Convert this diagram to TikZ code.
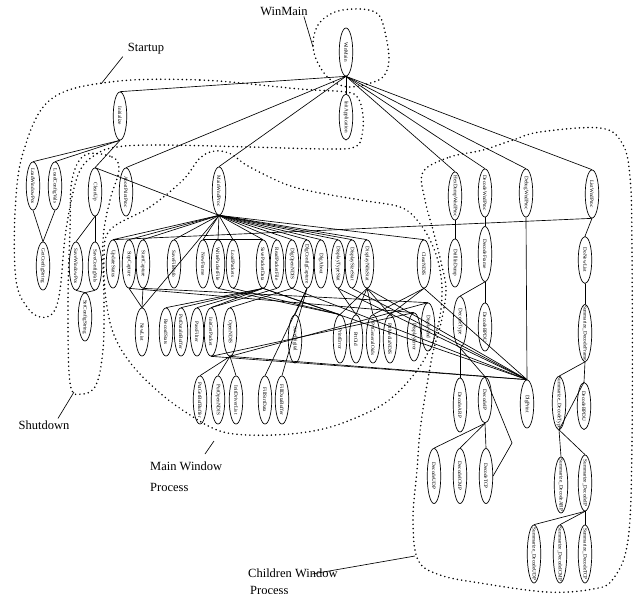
\documentclass[tikz,border=0pt]{standalone}
\usepackage{fontspec}
\setmainfont{Liberation Serif}
\usetikzlibrary{shapes.geometric}
% rotated function name inside an ellipse
\newcommand\fl[1]{\rotatebox{-90}{\makebox[0pt]{\fontsize{5.2}{5.5}\selectfont #1}}}
\begin{document}
\begin{tikzpicture}[x=1pt,y=-1pt,
  fn/.style={draw, ellipse, line width=0.7pt, minimum width=13.5pt, minimum height=48pt, inner sep=0pt},
  call/.style={line width=0.65pt},
  grp/.style={line width=1.7pt, dash pattern=on 0pt off 4.3pt, line cap=round},
  tag/.style={font=\fontsize{12.5}{13}\selectfont, inner sep=0pt},
  ptr/.style={line width=0.65pt}]
\useasboundingbox (0,0) rectangle (635,594);

% ---- top level ----
\node[fn] (WinMain) at (346,52) {\fl{WinMain}};
\node[fn,minimum height=46pt] (InitApplication) at (346,117) {\fl{InitApplication}};
\node[fn] (Initialize) at (120,116) {\fl{Initialize}};
\node[fn] (LoadWindowPos) at (33,186) {\fl{LoadWindowPos}};
\node[fn] (LoadConfigVals) at (55,186) {\fl{LoadConfigVals}};
\node[fn] (GetConfigString) at (43,266) {\fl{GetConfigString}};
\node[fn] (CleanUp) at (95,192) {\fl{CleanUp}};
\node[fn] (SaveWindowPos) at (76,266) {\fl{SaveWindowPos}};
\node[fn] (SaveConfigVals) at (95,266) {\fl{SaveConfigVals}};
\node[fn] (SetConfigString) at (85,317) {\fl{SetConfigString}};
\node[fn] (AbortPrintProc) at (126,192) {\fl{AbortPrintProc}};
\node[fn] (MainWndProc) at (219,191) {\fl{MainWndProc}};
\node[fn] (HexDumpWndProc) at (455,196) {\fl{HexDumpWndProc}};
\node[fn] (DecodeWndProc) at (485,193) {\fl{DecodeWndProc}};
\node[fn] (DebugWndProc) at (526,193) {\fl{DebugWndProc}};
\node[fn] (ListWndProc) at (592,194) {\fl{ListWndProc}};

% ---- main window row ----
\node[fn] (UpdateStatus) at (113,264) {\fl{UpdateStatus}};
\node[fn] (StopCapture) at (129,264) {\fl{StopCapture}};
\node[fn] (StartCapture) at (143,264) {\fl{StartCapture}};
\node[fn] (SaveFileInfo) at (174,264) {\fl{SaveFileInfo}};
\node[fn] (NewFrame) at (203,264) {\fl{NewFrame}};
\node[fn] (WritePacketFile) at (218,264) {\fl{WritePacketFile}};
\node[fn] (LoadPackets) at (233,264) {\fl{LoadPackets}};
\node[fn] (SavePacketData) at (263,264) {\fl{SavePacketData}};
\node[fn] (ReadPacketFile) at (277,264) {\fl{ReadPacketFile}};
\node[fn] (DlgOpenNDIS) at (292,264) {\fl{DlgOpenNDIS}};
\node[fn] (DlgConfigCapt) at (307,264) {\fl{DlgConfigCapture}};
\node[fn] (DlgAbout) at (321,264) {\fl{DlgAbout}};
\node[fn] (DisplayTypeStat) at (338,264) {\fl{DisplayTypeStat}};
\node[fn] (DisplaySizeStat) at (352,264) {\fl{DisplaySizeStat}};
\node[fn] (DisplayNdisStat) at (367,264) {\fl{DisplayNdisStat}};
\node[fn] (ClearNDIS) at (424,264) {\fl{ClearNDIS}};

\node[fn] (NewList) at (142,332) {\fl{NewList}};
\node[fn] (RecordStats) at (166,332) {\fl{RecordStats}};
\node[fn] (PutDataInBuffer) at (181,332) {\fl{PutDataInBuffer}};
\node[fn] (PassFilter) at (197,332) {\fl{PassFilter}};
\node[fn] (InitGetPacket) at (211,332) {\fl{InitGetPacket}};
\node[fn] (OpenNDIS) at (230,332) {\fl{OpenNDIS}};
\node[fn] (SaveDigital) at (295,339) {\fl{SaveDigital}};
\node[fn] (PrintError) at (340,339) {\fl{PrintError}};
\node[fn] (PrtOid) at (356,339) {\fl{PrtOid}};
\node[fn] (PrtGeneralOids) at (373,339) {\fl{PrtGeneralOids}};
\node[fn] (PrtMediaNDIS) at (390,339) {\fl{PrtMediaNDIS}};
\node[fn] (DisplayErr) at (414,337) {\fl{DisplayError}};
\node[fn] (DisplayInd) at (428,327) {\fl{DisplayInd}};

\node[fn] (PutGetBufBuffer) at (200,400) {\fl{PutGetBufBuffer}};
\node[fn] (PutOpenNDIS) at (218,400) {\fl{PutOpenNDIS}};
\node[fn] (InitDriverList) at (236,400) {\fl{InitDriverList}};
\node[fn] (FillStrtData) at (265,400) {\fl{FillStrtData}};
\node[fn] (FillDataBuffer) at (282,400) {\fl{FillDataBuffer}};

% ---- child windows ----
\node[fn] (DrillInDump) at (455,263) {\fl{DrillInDump}};
\node[fn,minimum height=55pt] (DecodeFrame) at (485,254) {\fl{DecodeFrame}};
\node[fn,minimum height=51pt] (DecodeType) at (460,322) {\fl{DecodeType}};
\node[fn] (DecodeBPDU) at (485,327) {\fl{DecodeBPDU}};
\node[fn,minimum height=54pt] (DecodeARP) at (460,405) {\fl{DecodeARP}};
\node[fn,minimum height=46pt] (DecodeIP) at (485,400) {\fl{DecodeIP}};
\node[fn,minimum height=55pt] (DecodeUDP) at (434,476) {\fl{DecodeUDP}};
\node[fn,minimum height=55pt] (DecodeICMP) at (460,476) {\fl{DecodeICMP}};
\node[fn,minimum height=55pt] (DecodeTCP) at (486,476) {\fl{DecodeTCP}};
\node[fn] (DlgPrint) at (527,404) {\fl{DlgPrint}};
\node[fn,minimum height=47pt] (DoNewList) at (585,260) {\fl{DoNewList}};
\node[fn,minimum height=57pt] (SumFrame) at (585,333) {\fl{Summarize\_DecodeFrame}};
\node[fn,minimum height=53pt] (SumType) at (559,403) {\fl{Summarize\_DecodeType}};
\node[fn,minimum height=47pt] (DecodeBPDUb) at (584,406) {\fl{DecodeBPDU}};
\node[fn,minimum height=56pt] (SumARP) at (561,485) {\fl{Summarize\_DecodeARP}};
\node[fn,minimum height=56pt] (SumIP) at (585,483) {\fl{Summarize\_DecodeIP}};
\node[fn,minimum height=58pt] (SumUDP) at (534,554) {\fl{Summarize\_DecodeUDP}};
\node[fn,minimum height=58pt] (SumICMP) at (560,554) {\fl{Summarize\_DecodeICMP}};
\node[fn,minimum height=58pt] (SumTCP) at (585,554) {\fl{Summarize\_DecodeTCP}};

% ---- calls ----
\foreach \a/\b in {
  WinMain/Initialize, WinMain/InitApplication, WinMain/AbortPrintProc, WinMain/MainWndProc,
  WinMain/HexDumpWndProc, WinMain/DecodeWndProc, WinMain/DebugWndProc, WinMain/ListWndProc,
  Initialize/LoadWindowPos, Initialize/LoadConfigVals, Initialize/CleanUp,
  LoadWindowPos/GetConfigString, LoadConfigVals/GetConfigString,
  MainWndProc/CleanUp, CleanUp/SaveWindowPos, CleanUp/SaveConfigVals,
  SaveWindowPos/SetConfigString, SaveConfigVals/SetConfigString,
  MainWndProc/UpdateStatus, MainWndProc/StopCapture, MainWndProc/StartCapture,
  MainWndProc/SaveFileInfo, MainWndProc/NewFrame, MainWndProc/WritePacketFile,
  MainWndProc/LoadPackets, MainWndProc/SavePacketData, MainWndProc/ReadPacketFile,
  MainWndProc/DlgOpenNDIS, MainWndProc/DlgConfigCapt, MainWndProc/DlgAbout,
  MainWndProc/DisplayTypeStat, MainWndProc/DisplaySizeStat, MainWndProc/DisplayNdisStat,
  MainWndProc/ClearNDIS, MainWndProc/NewList,
  ListWndProc/UpdateStatus,
  StopCapture/NewList, StartCapture/NewList,
  StopCapture/DisplayErr, StartCapture/DisplayInd,
  SavePacketData/RecordStats, SavePacketData/PutDataInBuffer, SavePacketData/PassFilter,
  SavePacketData/InitGetPacket, ReadPacketFile/InitGetPacket, DlgOpenNDIS/OpenNDIS,
  DlgConfigCapt/SaveDigital, DlgConfigCapt/FillStrtData, DlgConfigCapt/FillDataBuffer,
  OpenNDIS/PutGetBufBuffer, OpenNDIS/PutOpenNDIS, OpenNDIS/InitDriverList,
  InitGetPacket/DisplayErr, OpenNDIS/DisplayInd,
  WritePacketFile/PrintError, LoadPackets/PrintError, SavePacketData/PrintError,
  DisplayNdisStat/PrintError, DisplayNdisStat/PrtOid, DisplayNdisStat/PrtGeneralOids,
  DisplayNdisStat/PrtMediaNDIS, DisplayTypeStat/PrtOid,
  ClearNDIS/PrtMediaNDIS, ClearNDIS/PrtGeneralOids,
  DisplayNdisStat/DlgPrint, DisplaySizeStat/DlgPrint, DisplayTypeStat/DlgPrint,
  DlgOpenNDIS/DlgPrint, SavePacketData/DlgPrint, OpenNDIS/DlgPrint, InitGetPacket/DlgPrint,
  ClearNDIS/DlgPrint, DebugWndProc/DlgPrint,
  HexDumpWndProc/DrillInDump, DecodeWndProc/DecodeFrame,
  DecodeFrame/DecodeType, DecodeFrame/DecodeBPDU,
  DecodeType/DecodeARP, DecodeType/DecodeIP,
  DecodeIP/DecodeUDP, DecodeIP/DecodeICMP, DecodeIP/DecodeTCP,
  ListWndProc/DoNewList, DoNewList/SumFrame, SumFrame/SumType, SumFrame/DecodeBPDUb,
  SumType/SumARP, SumType/SumIP, SumIP/SumUDP, SumIP/SumICMP, SumIP/SumTCP}
  \draw[call] (\a.south) -- (\b.north);
\draw[call] (NewFrame.north) -- (SavePacketData.north);
\draw[call] (SumType.south) -- (DecodeBPDUb.north);
\coordinate (tcpBend) at (512,443);
\draw[call] (DecodeIP.north) -- (tcpBend) -- (DecodeTCP.east);

% ---- groups ----
\draw[grp] plot[smooth cycle, tension=0.6] coordinates {
  (313,47) (318,25) (335,12) (360,9) (378,14) (385,32) (389,60) (383,77) (367,84) (348,87) (332,81) (320,67)};
\draw[grp] plot[smooth cycle, tension=0.6] coordinates {
  (110,82) (200,80) (300,89) (346,92) (358,98) (363,115) (362,135) (355,147) (327,149)
  (250,147) (160,145) (117,147) (95,155) (78,175) (66,230) (60,290) (53,313) (40,317)
  (27,307) (16,280) (15,213) (23,153) (50,100)};
\draw[grp] plot[smooth cycle, tension=0.6] coordinates {
  (85,155) (112,157) (119,170) (110,200) (103,240) (104,300) (103,350) (96,385) (82,394)
  (70,383) (68,300) (70,230) (72,180)};
\draw[grp] plot[smooth cycle, tension=0.6] coordinates {
  (110,230) (150,207) (183,180) (200,158) (215,151) (231,154) (248,166) (285,184) (315,192)
  (360,200) (400,207) (417,220) (430,240) (439,265) (442,295) (437,330) (424,360)
  (405,385) (385,403) (360,416) (327,428) (290,434) (247,435) (217,430) (187,413)
  (160,393) (132,365) (114,335) (106,300) (104,260)};
\draw[grp] plot[smooth cycle, tension=0.6] coordinates {
  (423,172) (450,157) (483,150) (513,140) (540,132) (600,128) (622,143) (630,177)
  (632,250) (632,440) (628,540) (613,579) (593,589) (547,592) (480,583) (440,575)
  (418,560) (413,520) (417,470) (421,423) (432,357) (441,323) (446,290) (441,262)
  (433,230) (425,200)};

% ---- group captions ----
\node[tag] (tWin) at (284,11) {WinMain};
\coordinate (pWin) at (313,47);
\draw[ptr] (tWin.south east) ++(-4,1) -- (pWin);
\node[tag] (tStart) at (146,49) {Startup};
\coordinate (pStart) at (101,84);
\draw[ptr] (tStart.south west) ++(-5,2) -- (pStart);
\node[tag] (tShut) at (44,425) {Shutdown};
\coordinate (pShut) at (74,392);
\draw[ptr] (tShut.north) ++(14,-2) -- (pShut);
\node[tag, anchor=west] (tMain1) at (150,466) {Main Window};
\node[tag, anchor=west] (tMain2) at (150,487) {Process};
\coordinate (pMain) at (214,441);
\draw[ptr] (205,454) -- (pMain);
\node[tag, anchor=west] (tChild1) at (248,573) {Children Window};
\node[tag, anchor=west] (tChild2) at (250,590) {Process};
\coordinate (pChild) at (415,556);
\draw[ptr] (312,574) -- (pChild);
\end{tikzpicture}
\end{document}
